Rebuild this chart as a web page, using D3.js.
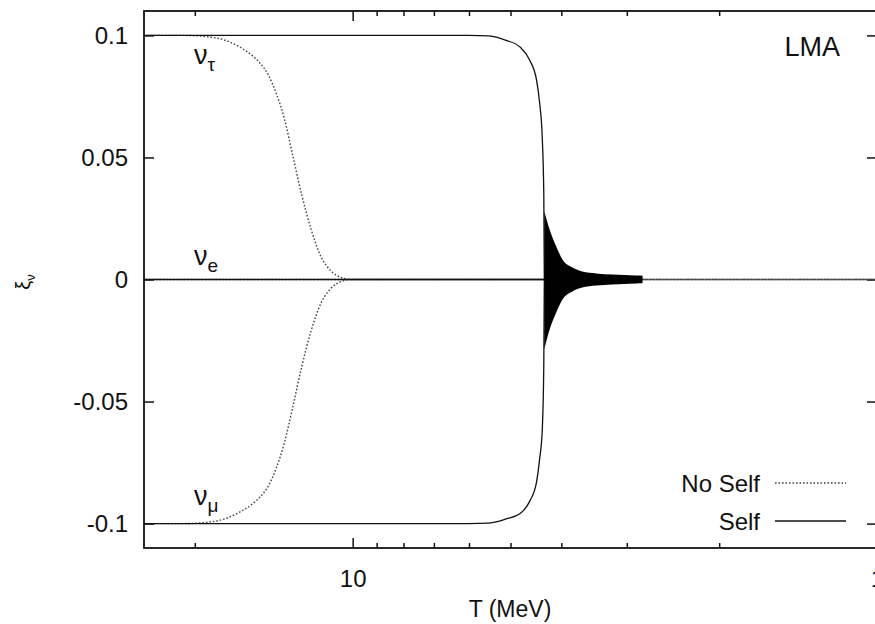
<!DOCTYPE html>
<html>
<head>
<meta charset="utf-8">
<script src="https://cdn.jsdelivr.net/npm/d3@7"></script>
<style>
  html, body { margin: 0; padding: 0; background: #fff; }
  svg { display: block; }
  text { font-family: "Liberation Sans", Arial, sans-serif; fill: #111; }
</style>
</head>
<body>
<svg id="chart" width="875" height="624"></svg>
<script>
// ---------- data ----------
// No self-interaction (dotted)
const noSelfT    = [25, 21, 19, 17.5, 16.5, 15.5, 15, 14.5, 14, 13.5, 13, 12.5, 12, 11.5, 11, 10.5, 10, 9, 5, 2, 1];
const noSelfTau  = [0.1, 0.1, 0.0995, 0.098, 0.0955, 0.0915, 0.0885, 0.084, 0.0765, 0.066, 0.0505, 0.0345, 0.0205, 0.0095, 0.0035, 0.0008, 0, 0, 0, 0, 0];
const noSelfMu   = [-0.1, -0.1, -0.0995, -0.098, -0.0955, -0.0918, -0.089, -0.0848, -0.0775, -0.067, -0.052, -0.0355, -0.021, -0.0098, -0.0036, -0.0008, 0, 0, 0, 0, 0];
const noSelfE    = [0, 0, 0, 0, 0, 0, 0, 0, 0, 0, 0, 0, 0, 0, 0, 0, 0, 0, 0, 0, 0];

// With self-interaction (solid)
const selfT      = [25, 10, 6, 5.5, 5.3, 5.1, 4.8, 4.6, 4.46, 4.4, 4.35, 4.32, 4.31];
const selfTau    = [0.1, 0.1, 0.1, 0.0998, 0.0992, 0.098, 0.0953, 0.090, 0.0818, 0.0724, 0.0585, 0.035, 0];
const selfMu     = [-0.1, -0.1, -0.1, -0.0998, -0.0992, -0.0981, -0.096, -0.091, -0.083, -0.0736, -0.062, -0.035, 0];
const selfET     = [25, 10, 5, 4.31, 2.8];
const selfE      = [0, 0, 0, 0, 0];

// Envelope of the fast oscillations around zero (solid, filled)
const oscT       = [4.31, 4.21, 4.09, 3.98, 3.81, 3.65, 3.43, 3.20, 2.88, 2.80];
const oscUpper   = [0.028, 0.0204, 0.0135, 0.0082, 0.0049, 0.0033, 0.0025, 0.002, 0.0016, 0.0015];
const oscLower   = [-0.0286, -0.0204, -0.0135, -0.0082, -0.0049, -0.0033, -0.0025, -0.002, -0.0016, -0.0015];

// Axes
const xMajorTicks = [10, 1];
const xMinorTicks = [20, 9, 8, 7, 6, 5, 4, 3, 2];
const yTicks      = [-0.1, -0.05, 0, 0.05, 0.1];
const yTickLabels = ["-0.1", "-0.05", "0", "0.05", "0.1"];

// ---------- drawing ----------
const svg = d3.select("#chart");
const L = 144, R = 877, T = 11, B = 548;

const x = d3.scaleLog().domain([25, 1]).range([L, R]);
const y = d3.scaleLinear().domain([-0.11, 0.11]).range([B, T]);

svg.append("defs").append("clipPath").attr("id", "plotclip")
  .append("rect").attr("x", L).attr("y", T).attr("width", R - L).attr("height", B - T);

const axisStyle = g => {
  g.select(".domain").remove();
  g.selectAll("line").attr("stroke", "#111").attr("stroke-width", 1.5);
  g.selectAll("text").style("font-size", "24px").attr("fill", "#111");
};

// bottom major
svg.append("g").attr("transform", `translate(0,${B})`)
  .call(d3.axisBottom(x).tickValues(xMajorTicks).tickFormat(d3.format("d"))
        .tickSizeInner(-10).tickSizeOuter(0).tickPadding(22))
  .call(axisStyle);
// bottom minor
svg.append("g").attr("transform", `translate(0,${B})`)
  .call(d3.axisBottom(x).tickValues(xMinorTicks).tickFormat("")
        .tickSizeInner(-5).tickSizeOuter(0))
  .call(axisStyle);
// top major / minor (mirror)
svg.append("g").attr("transform", `translate(0,${T})`)
  .call(d3.axisTop(x).tickValues(xMajorTicks).tickFormat("")
        .tickSizeInner(-10).tickSizeOuter(0))
  .call(axisStyle);
svg.append("g").attr("transform", `translate(0,${T})`)
  .call(d3.axisTop(x).tickValues(xMinorTicks).tickFormat("")
        .tickSizeInner(-5).tickSizeOuter(0))
  .call(axisStyle);
// left
svg.append("g").attr("transform", `translate(${L},0)`)
  .call(d3.axisLeft(y).tickValues(yTicks).tickFormat((d, i) => yTickLabels[i])
        .tickSizeInner(-10).tickSizeOuter(0).tickPadding(16))
  .call(axisStyle);
// right (mirror)
svg.append("g").attr("transform", `translate(${R},0)`)
  .call(d3.axisRight(y).tickValues(yTicks).tickFormat("")
        .tickSizeInner(-10).tickSizeOuter(0))
  .call(axisStyle);

// frame
svg.append("rect").attr("x", L).attr("y", T).attr("width", R - L).attr("height", B - T)
  .attr("fill", "none").attr("stroke", "#111").attr("stroke-width", 1.8);

const plot = svg.append("g").attr("clip-path", "url(#plotclip)");

const line = (ts, vs) => d3.line().x((d, i) => x(ts[i])).y(d => y(d)).curve(d3.curveMonotoneX)(vs);

// No-self (dotted)
[noSelfTau, noSelfMu, noSelfE].forEach((vs, k) => {
  plot.append("path").attr("d", line(noSelfT, vs))
    .attr("fill", "none").attr("stroke", "#444").attr("stroke-width", 1.4)
    .attr("stroke-dasharray", "1.6,1.9").attr("stroke-dashoffset", k * 1.1);
});

// Self (solid)
[[selfT, selfTau], [selfT, selfMu], [selfET, selfE]].forEach(([ts, vs]) => {
  plot.append("path").attr("d", line(ts, vs))
    .attr("fill", "none").attr("stroke", "#111").attr("stroke-width", 1.3);
});

// oscillation envelope
const area = d3.area()
  .x((d, i) => x(oscT[i]))
  .y0((d, i) => y(oscLower[i]))
  .y1(d => y(d))
  .curve(d3.curveMonotoneX);
plot.append("path").attr("d", area(oscUpper)).attr("fill", "#000");

// ---------- labels ----------
const nuLabel = (xp, yp, sub) => {
  const t = svg.append("text").attr("x", xp).attr("y", yp).style("font-size", "27px");
  t.append("tspan").text("ν");
  t.append("tspan").attr("dy", 7).style("font-size", "19px").text(sub);
};
nuLabel(194, 64, "τ");
nuLabel(194, 265, "e");
nuLabel(194, 505, "μ");

svg.append("text").attr("x", 840).attr("y", 56).attr("text-anchor", "end")
  .style("font-size", "27px").text("LMA");

// axis titles
svg.append("text").attr("x", 510).attr("y", 617).attr("text-anchor", "middle")
  .style("font-size", "23px").text("T (MeV)");
const yl = svg.append("text").attr("transform", "translate(30,282) rotate(-90)")
  .attr("text-anchor", "middle").style("font-size", "20px");
yl.append("tspan").text("ξ");
yl.append("tspan").attr("dy", 5).style("font-size", "13px").text("ν");

// legend
const legend = [
  { label: "No Self", dash: "1.6,1.9", color: "#444", y: 483 },
  { label: "Self", dash: null, color: "#111", y: 521 }
];
legend.forEach(d => {
  svg.append("text").attr("x", 760).attr("y", d.y + 9).attr("text-anchor", "end")
    .style("font-size", "24px").text(d.label);
  svg.append("line").attr("x1", 775).attr("x2", 846).attr("y1", d.y).attr("y2", d.y)
    .attr("stroke", d.color).attr("stroke-width", 1.5)
    .attr("stroke-dasharray", d.dash);
});
</script>
</body>
</html>
